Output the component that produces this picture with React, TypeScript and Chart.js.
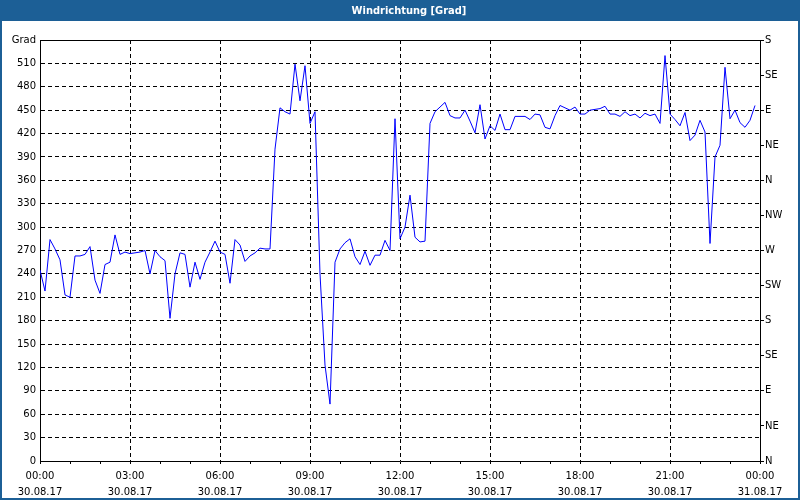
import React, { useEffect, useRef } from "react";
import { Chart, registerables } from "chart.js";

Chart.register(...registerables);

const TITLE = "Windrichtung [Grad]";
const SAMPLE_MINUTES = 10;

// wind direction in degrees, one value every 10 minutes from 00:00
const windDirection = [
  245, 218, 284, 272, 258, 213, 210, 263, 263, 265,
  275, 232, 215, 252, 255, 290, 265, 268, 266, 267,
  268, 270, 240, 270, 262, 257, 183, 240, 267, 265,
  223, 255, 233, 255, 268, 282, 268, 265, 228, 284,
  277, 256, 263, 267, 273, 272, 272, 400, 453, 448,
  445, 509, 462, 507, 433, 448, 240, 123, 73, 255,
  272, 280, 285, 262, 252, 269, 251, 264, 264, 283,
  270, 439, 285, 300, 341, 287, 281, 282, 433, 448,
  454, 460, 443, 440, 440, 450, 436, 421, 457, 413,
  430, 424, 445, 425, 425, 442, 442, 442, 438, 445,
  444, 428, 426, 443, 456, 453, 450, 454, 445, 445,
  450, 451, 452, 455, 445, 445, 442, 448, 443, 445,
  440, 446, 443, 445, 433, 520, 445, 438, 430, 447,
  411, 418, 437, 422, 279, 390, 405, 505, 439, 450,
  434, 428, 437, 456,
];

const timeLabels = ["00:00", "03:00", "06:00", "09:00", "12:00", "15:00", "18:00", "21:00", "00:00"];
const dateLabels = ["30.08.17", "30.08.17", "30.08.17", "30.08.17", "30.08.17", "30.08.17", "30.08.17", "30.08.17", "31.08.17"];
const compassLabels = ["N", "NE", "E", "SE", "S", "SW", "W", "NW", "N", "NE", "E", "SE", "S"];
const leftTopLabel = "Grad";

const Y_MIN = 0;
const Y_MAX = 540;
const X_MAX = 1440;

const BAR = "#1c5f96";
const FONT = '"DejaVu Sans", sans-serif';

const framePlugin = {
  id: "frame",
  beforeDraw(chart: any) {
    const { ctx, width, height } = chart;
    ctx.save();
    ctx.fillStyle = "#ffffff";
    ctx.fillRect(0, 0, width, height);
    ctx.restore();
  },
  afterDraw(chart: any) {
    const { ctx, chartArea, width, height } = chart;
    ctx.save();
    ctx.strokeStyle = "#000";
    ctx.lineWidth = 1;
    ctx.beginPath();
    ctx.moveTo(chartArea.left, chartArea.top + 0.5);
    ctx.lineTo(chartArea.right + 1, chartArea.top + 0.5);
    ctx.stroke();
    ctx.fillStyle = BAR;
    ctx.fillRect(0, 0, width, 21);
    ctx.fillRect(0, 0, 2, height);
    ctx.fillRect(width - 2, 0, 2, height);
    ctx.fillRect(0, height - 2, width, 2);
    ctx.fillStyle = "#ffffff";
    ctx.font = 'bold 11px "DejaVu Sans Condensed", "DejaVu Sans", sans-serif';
    ctx.textAlign = "center";
    ctx.textBaseline = "middle";
    ctx.fillText(TITLE, 409, 11);
    ctx.restore();
  },
};

export default function App() {
  const ref = useRef<HTMLCanvasElement | null>(null);

  useEffect(() => {
    if (!ref.current) return;
    const data = windDirection.map((v, i) => ({ x: i * SAMPLE_MINUTES, y: v }));
    const chart = new Chart(ref.current, {
      type: "line",
      data: {
        datasets: [
          {
            data,
            borderColor: "#0000ff",
            borderWidth: 1,
            pointRadius: 0,
            fill: false,
            tension: 0,
            yAxisID: "y",
          },
        ],
      },
      options: {
        animation: false,
        responsive: false,
        devicePixelRatio: 1,
        layout: { padding: { top: 40, left: 0, right: 0, bottom: 0 } },
        plugins: {
          legend: { display: false },
          title: { display: false },
          tooltip: { enabled: false },
        },
        scales: {
          x: {
            type: "linear",
            min: 0,
            max: X_MAX,
            afterFit: (s: any) => {
              s.height = 39;
            },
            border: { display: true, color: "#000", width: 1, dash: [4, 3] },
            grid: {
              color: (c: any) =>
                c.tick && c.tick.value % 180 === 0 && c.tick.value !== 0 && c.tick.value !== X_MAX
                  ? "#000"
                  : "rgba(0,0,0,0)",
              tickColor: "#000",
              tickLength: 3,
              lineWidth: 1,
              drawTicks: true,
            },
            ticks: {
              stepSize: 60,
              autoSkip: false,
              maxRotation: 0,
              padding: 4,
              color: "#000",
              font: { family: FONT, size: 10, lineHeight: 1.6 },
              callback: (v: any) => {
                const n = Number(v);
                if (n % 180 !== 0) return "";
                const idx = n / 180;
                return [timeLabels[idx], dateLabels[idx]];
              },
            },
          },
          y: {
            position: "left",
            min: Y_MIN,
            max: Y_MAX,
            afterFit: (s: any) => {
              s.width = 40;
            },
            border: { display: true, color: "#000", width: 1, dash: [4, 3] },
            grid: {
              color: (c: any) =>
                c.tick && c.tick.value !== Y_MIN && c.tick.value !== Y_MAX ? "#000" : "rgba(0,0,0,0)",
              lineWidth: 1,
              drawTicks: false,
            },
            ticks: {
              stepSize: 30,
              padding: 4,
              color: "#000",
              font: { family: FONT, size: 10 },
              callback: (v: any) => (Number(v) === Y_MAX ? leftTopLabel : String(v)),
            },
          },
          y1: {
            position: "right",
            min: Y_MIN,
            max: Y_MAX,
            afterFit: (s: any) => {
              s.width = 40;
            },
            border: { display: true, color: "#000", width: 1 },
            grid: {
              drawOnChartArea: false,
              drawTicks: true,
              tickLength: 4,
              tickColor: "#000",
              color: "#000",
            },
            ticks: {
              stepSize: 45,
              padding: 1,
              color: "#000",
              font: { family: FONT, size: 10 },
              callback: (v: any) => compassLabels[Math.round(Number(v) / 45)] ?? "",
            },
          },
        },
      },
      plugins: [framePlugin],
    } as any);
    return () => chart.destroy();
  }, []);

  return (
    <div style={{ position: "absolute", left: 0, top: 0, width: 800, height: 500 }}>
      <canvas ref={ref} width={800} height={500} style={{ width: 800, height: 500, display: "block" }} />
    </div>
  );
}
